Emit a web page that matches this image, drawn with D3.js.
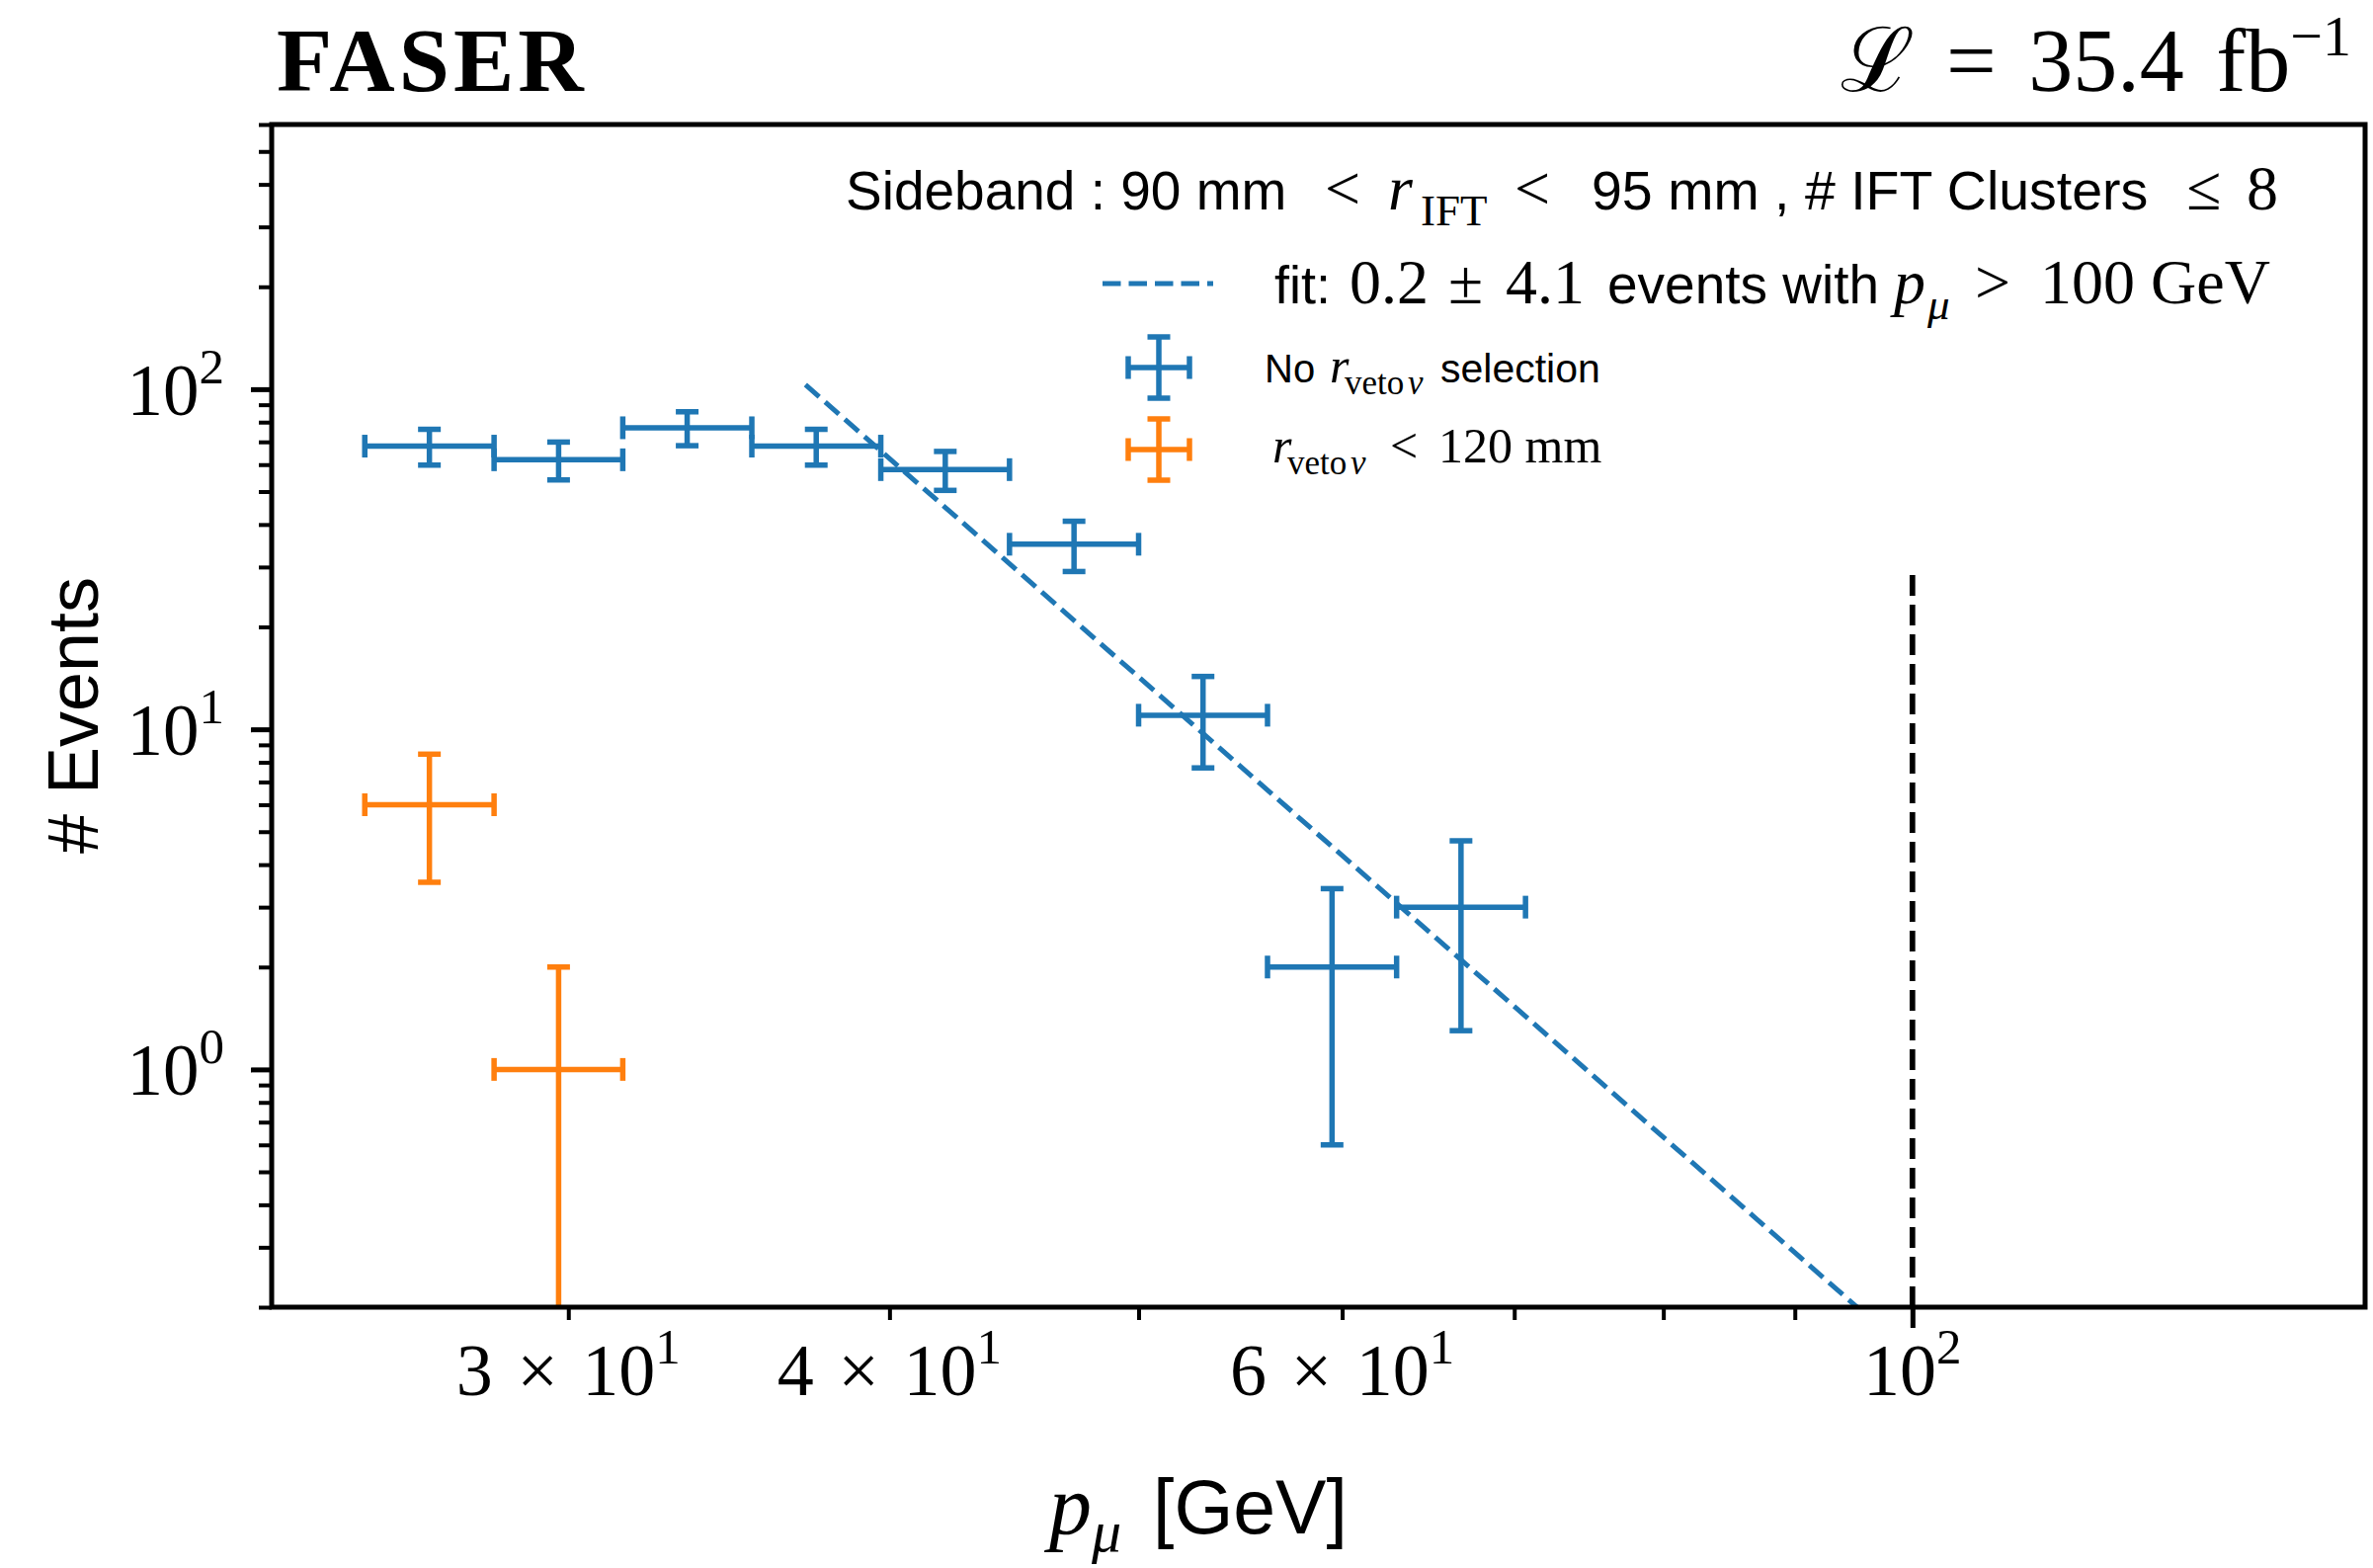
<!DOCTYPE html>
<html lang="en">
<head>
<meta charset="utf-8">
<title>FASER sideband p_mu</title>
<script src="https://d3js.org/d3.v7.min.js"></script>
<style>
  body { margin: 0; background: #fff; }
  .sans { font-family: "Liberation Sans", Arial, sans-serif; }
  .serif { font-family: "Liberation Serif", "DejaVu Serif", serif; }
</style>
</head>
<body>
<div id="chart"></div>
<script>
// binned counts
const binEdges = [25, 28.07, 31.5, 35.36, 39.69, 44.54, 50, 56.12, 63.0, 70.71];
const binCenters = [26.49, 29.74, 33.37, 37.46, 42.05, 47.19, 52.97, 59.46, 66.74];
const noVetoCounts = [68, 62, 77, 68, 58, 35, 11, 2, 3];
const noVetoErrors = [8.2, 7.9, 8.8, 8.2, 7.6, 5.9, 3.3, 1.4, 1.7];
const vetoCounts = [6, 1];
const vetoErrors = [2.45, 1.0];

// fit line end points and the 100 GeV cut line
const fitX = [37.1, 100];
const fitY = [103, 0.144];
const cutX = 100;
const cutY = [0.2, 30];

// ticks
const xMajorTicks = [100];
const xMinorTicks = [30, 40, 50, 60, 70, 80, 90];
const xLabelTicks = [30, 40, 60, 100];
const xLabelMantissa = ["3 × 10", "4 × 10", "6 × 10", "10"];
const xLabelExp = ["1", "1", "1", "2"];
const yMajorTicks = [1, 10, 100];
const yMinorTicks = [0.2, 0.3, 0.4, 0.5, 0.6, 0.7, 0.8, 0.9,
                     2, 3, 4, 5, 6, 7, 8, 9,
                     20, 30, 40, 50, 60, 70, 80, 90,
                     200, 300, 400, 500, 600];
const yLabelExp = ["0", "1", "2"];

const w = 2402, h = 1587;
const mLeft = 275, mRight = 2394, mTop = 126, mBottom = 1323;
const blue = "#1f77b4", orange = "#ff7f0e";
const lw = 5.5, cap = 11.5;

const x = d3.scaleLog().domain([23, 150]).range([mLeft, mRight]);
const y = d3.scaleLog().domain([0.2, 600]).range([mBottom, mTop]);

const svg = d3.select("#chart").append("svg")
    .attr("width", w).attr("height", h);

svg.append("defs").append("clipPath").attr("id", "plotclip")
  .append("rect")
    .attr("x", mLeft).attr("y", mTop)
    .attr("width", mRight - mLeft).attr("height", mBottom - mTop);

const plot = svg.append("g").attr("clip-path", "url(#plotclip)");

// fit line
plot.append("path")
    .datum(fitX.map((v, i) => [v, fitY[i]]))
    .attr("d", d3.line().x(d => x(d[0])).y(d => y(d[1])))
    .attr("fill", "none")
    .attr("stroke", blue)
    .attr("stroke-width", 5)
    .attr("stroke-dasharray", "18.5,8");

// cut line at 100 GeV
plot.append("line")
    .attr("x1", x(cutX)).attr("x2", x(cutX))
    .attr("y1", y(cutY[0])).attr("y2", y(cutY[1]))
    .attr("stroke", "#000")
    .attr("stroke-width", 5.7)
    .attr("stroke-dasharray", "21,9");

function errorBars(counts, errors, color) {
  const g = plot.append("g").attr("stroke", color).attr("stroke-width", lw).attr("fill", "none");
  counts.forEach((c, i) => {
    const x0 = x(binEdges[i]), x1 = x(binEdges[i + 1]), xc = x(binCenters[i]);
    const yc = y(c);
    const yHi = y(c + errors[i]);
    const yLo = y(Math.max(c - errors[i], 0.01));
    g.append("line").attr("x1", x0).attr("x2", x1).attr("y1", yc).attr("y2", yc);
    g.append("line").attr("x1", x0).attr("x2", x0).attr("y1", yc - cap).attr("y2", yc + cap);
    g.append("line").attr("x1", x1).attr("x2", x1).attr("y1", yc - cap).attr("y2", yc + cap);
    g.append("line").attr("x1", xc).attr("x2", xc).attr("y1", yHi).attr("y2", yLo);
    g.append("line").attr("x1", xc - cap).attr("x2", xc + cap).attr("y1", yHi).attr("y2", yHi);
    g.append("line").attr("x1", xc - cap).attr("x2", xc + cap).attr("y1", yLo).attr("y2", yLo);
  });
}
errorBars(noVetoCounts, noVetoErrors, blue);
errorBars(vetoCounts, vetoErrors, orange);

// axes
function tickAxis(axis, size, width) {
  return g => {
    g.call(axis.tickSize(size).tickFormat(""));
    g.select(".domain").remove();
    g.selectAll(".tick line").attr("stroke", "#000").attr("stroke-width", width);
  };
}
svg.append("g").attr("transform", `translate(0,${mBottom})`)
    .call(tickAxis(d3.axisBottom(x).tickValues(xMinorTicks), 13, 4));
svg.append("g").attr("transform", `translate(0,${mBottom})`)
    .call(tickAxis(d3.axisBottom(x).tickValues(xMajorTicks), 21, 5));
svg.append("g").attr("transform", `translate(${mLeft},0)`)
    .call(tickAxis(d3.axisLeft(y).tickValues(yMinorTicks), 13, 4));
svg.append("g").attr("transform", `translate(${mLeft},0)`)
    .call(tickAxis(d3.axisLeft(y).tickValues(yMajorTicks), 21, 5));

svg.append("rect")
    .attr("x", mLeft).attr("y", mTop)
    .attr("width", mRight - mLeft).attr("height", mBottom - mTop)
    .attr("fill", "none").attr("stroke", "#000").attr("stroke-width", 5);

// tick labels
xLabelTicks.forEach((v, i) => {
  const t = svg.append("text").attr("class", "serif")
      .attr("x", x(v)).attr("y", 1412)
      .attr("text-anchor", "middle")
      .style("font-size", "74px")
      .style("word-spacing", "6px");
  t.append("tspan").text(xLabelMantissa[i]);
  t.append("tspan").attr("dy", -32).style("font-size", "51px").text(xLabelExp[i]);
});
yMajorTicks.forEach((v, i) => {
  const t = svg.append("text").attr("class", "serif")
      .attr("x", 227).attr("y", y(v) + 26)
      .attr("text-anchor", "end")
      .style("font-size", "73px");
  t.append("tspan").text("10");
  t.append("tspan").attr("dy", -32).style("font-size", "51px").text(yLabelExp[i]);
});

// axis labels
svg.append("text").attr("class", "sans")
    .attr("transform", "translate(99,724) rotate(-90)")
    .attr("text-anchor", "middle")
    .style("font-size", "72px")
    .text("# Events");

const xl = svg.append("text").attr("y", 1552).style("font-size", "77px");
xl.append("tspan").attr("class", "serif").attr("x", 1062).style("font-style", "italic").style("font-size", "86px").text("p");
xl.append("tspan").attr("class", "serif").attr("dy", 18).style("font-style", "italic").style("font-size", "60px").text("μ");
xl.append("tspan").attr("class", "sans").attr("x", 1167).attr("dy", -18).text("[GeV]");

// header
svg.append("text").attr("class", "serif")
    .attr("x", 280).attr("y", 92)
    .style("font-size", "92px").style("font-weight", "bold").style("letter-spacing", "4px")
    .text("FASER");

const lumi = svg.append("text").attr("class", "serif")
    .attr("x", 2380).attr("y", 92).attr("text-anchor", "end")
    .style("font-size", "90px").style("word-spacing", "10px");
lumi.append("tspan").text("ℒ = 35.4 fb");
lumi.append("tspan").attr("dy", -36).style("font-size", "58px").text("−1");

// legend
function piece(row, str, px, cls, size, opts = {}) {
  svg.append("text").attr("class", cls)
      .attr("x", px).attr("y", row + (opts.sub || 0))
      .style("font-size", size + "px")
      .style("font-style", opts.italic ? "italic" : "normal")
      .text(str);
}
const r1 = 212, r2 = 307, r3 = 387, r4 = 468;
piece(r1, "Sideband : 90 mm", 856, "sans", 55);
piece(r1, "<", 1341, "serif", 64);
piece(r1, "r", 1405, "serif", 64, {italic: true});
piece(r1, "IFT", 1438, "serif", 45, {sub: 16});
piece(r1, "<", 1533, "serif", 64);
piece(r1, "95 mm , # IFT Clusters", 1611, "sans", 55.5);
piece(r1, "≤", 2213, "serif", 64);
piece(r1, "8", 2274, "serif", 64);

piece(r2, "fit:", 1290, "sans", 54);
piece(r2, "0.2", 1366, "serif", 64);
piece(r2, "±", 1466, "serif", 64);
piece(r2, "4.1", 1524, "serif", 64);
piece(r2, "events with", 1627, "sans", 55);
piece(r2, "p", 1917, "serif", 64, {italic: true});
piece(r2, "μ", 1951, "serif", 45, {italic: true, sub: 16});
piece(r2, ">", 1999, "serif", 64);
piece(r2, "100 GeV", 2065, "serif", 64);

piece(r3, "No", 1280, "sans", 40);
piece(r3, "r", 1346, "serif", 50, {italic: true});
piece(r3, "veto", 1361, "serif", 35, {sub: 12});
piece(r3, "ν", 1425, "serif", 35, {italic: true, sub: 12});
piece(r3, "selection", 1458, "sans", 41);

piece(r4, "r", 1288, "serif", 50, {italic: true});
piece(r4, "veto", 1303, "serif", 35, {sub: 12});
piece(r4, "ν", 1367, "serif", 35, {italic: true, sub: 12});
piece(r4, "<", 1407, "serif", 50);
piece(r4, "120 mm", 1456, "serif", 50);

svg.append("line")
    .attr("x1", 1116).attr("x2", 1228).attr("y1", 287).attr("y2", 287)
    .attr("stroke", blue).attr("stroke-width", 5).attr("stroke-dasharray", "18.5,8");

function legendBar(cx, cy, color) {
  const g = svg.append("g").attr("stroke", color).attr("stroke-width", lw);
  const s = 31;
  g.append("line").attr("x1", cx - s).attr("x2", cx + s).attr("y1", cy).attr("y2", cy);
  g.append("line").attr("x1", cx).attr("x2", cx).attr("y1", cy - s).attr("y2", cy + s);
  [-s, s].forEach(o => {
    g.append("line").attr("x1", cx + o).attr("x2", cx + o).attr("y1", cy - cap).attr("y2", cy + cap);
    g.append("line").attr("x1", cx - cap).attr("x2", cx + cap).attr("y1", cy + o).attr("y2", cy + o);
  });
}
legendBar(1173, 372, blue);
legendBar(1173, 455, orange);
</script>
</body>
</html>
